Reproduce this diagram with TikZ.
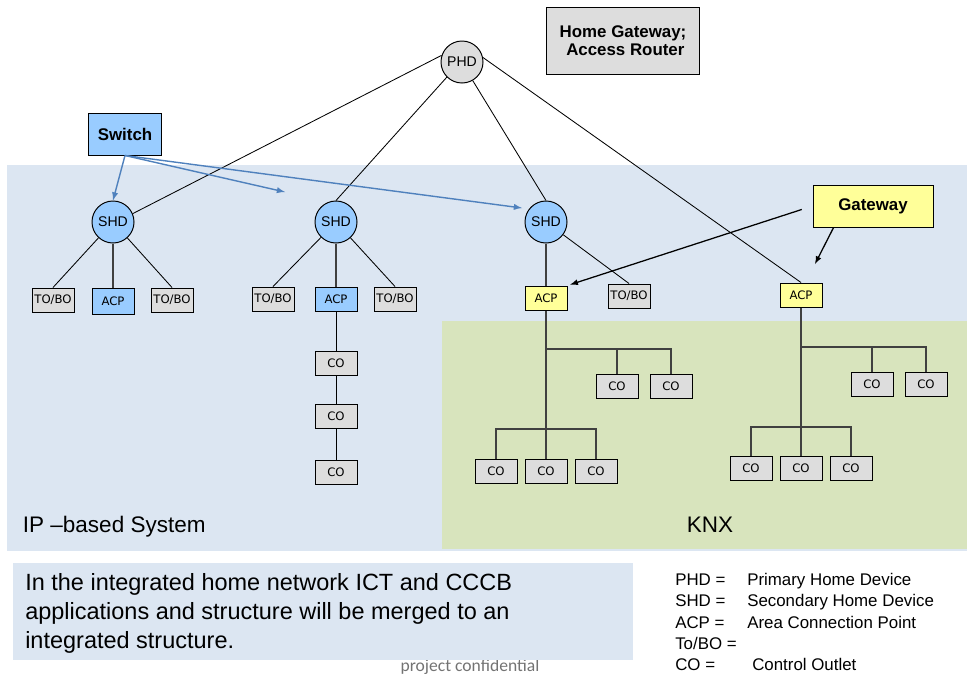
\documentclass[tikz,border=0pt]{standalone}
\usepackage{fontspec}
\setmainfont{Liberation Sans}
\newfontfamily\boxfont{DejaVu Sans}
\newfontfamily\notefont{Carlito}
\usetikzlibrary{positioning}
\definecolor{ipblue}{RGB}{220,230,242}
\definecolor{knxgreen}{RGB}{216,228,189}
\definecolor{shdblue}{RGB}{153,204,255}
\definecolor{acpyellow}{RGB}{255,255,153}
\definecolor{boxgray}{RGB}{221,221,221}
\definecolor{switchline}{RGB}{79,129,189}

\tikzset{
  dev/.style={circle, draw, line width=0.7pt, fill=shdblue, minimum size=1.05cm, inner sep=0pt, font=\fontsize{10}{12}\selectfont},
  outlet/.style={rectangle, draw, line width=0.7pt, fill=boxgray, minimum width=1.05cm, minimum height=0.6cm, inner sep=0pt, font=\boxfont\fontsize{8.3}{9}\selectfont},
  callout/.style={rectangle, draw, line width=0.7pt, inner sep=0pt, minimum height=1.05cm, align=center, font=\bfseries\fontsize{12}{13}\selectfont},
  link/.style={line width=0.6pt},
  trunk/.style={line width=1pt, black!75},
  swarrow/.style={-latex, line width=1pt, switchline},
  legend/.style={anchor=base west, inner sep=0pt, font=\fontsize{12}{14}\selectfont},
}

\begin{document}
\begin{tikzpicture}[x=0.025cm, y=-0.025cm]
  \useasboundingbox (0,0) rectangle (967,678);

  % system areas
  \fill[ipblue] (7,165) rectangle (967,551);
  \fill[knxgreen] (442,321) rectangle (967,549);
  \node[anchor=west, font=\fontsize{16}{19}\selectfont] (ipsys) at (18,527) {IP --based System};
  \node[font=\fontsize{16}{19}\selectfont] (knx) at (710,525) {KNX};

  % devices
  \node[dev, fill=boxgray] (phd) at (462,62) {PHD};
  \node[callout, fill=boxgray, minimum width=3.8cm, minimum height=1.675cm] (hgw) at (623,41) {Home Gateway;\\ \ Access Router};
  \node[callout, fill=shdblue, minimum width=1.825cm] (sw) at (125,134) {Switch};
  \node[callout, fill=acpyellow, minimum width=3cm] (gw) at (873,206) {Gateway};

  \node[dev] (shd1) at (113,222) {SHD};
  \node[dev] (shd2) at (336,222) {SHD};
  \node[dev] (shd3) at (546,222) {SHD};

  \node[outlet] (tb1) at (53,300) {TO/BO};
  \node[outlet, fill=shdblue, minimum height=0.65cm] (acp1) at (113,301) {ACP};
  \node[outlet] (tb2) at (172,300) {TO/BO};
  \node[outlet] (tb3) at (273,299) {TO/BO};
  \node[outlet, fill=shdblue] (acp2) at (336,299) {ACP};
  \node[outlet] (tb4) at (395,299) {TO/BO};
  \node[outlet, fill=acpyellow] (acp3) at (546,298) {ACP};
  \node[outlet] (tb5) at (629,296) {TO/BO};
  \node[outlet, fill=acpyellow] (acp4) at (801,295) {ACP};

  % control outlets
  \node[outlet] (c1) at (336,363) {CO};
  \node[outlet] (c2) at (336,416) {CO};
  \node[outlet] (c3) at (336,472) {CO};
  \node[outlet] (u1) at (617,386) {CO};
  \node[outlet] (u2) at (671,386) {CO};
  \node[outlet] (l1) at (496,471) {CO};
  \node[outlet] (l2) at (546,471) {CO};
  \node[outlet] (l3) at (596,471) {CO};
  \node[outlet] (v1) at (872,384) {CO};
  \node[outlet] (v2) at (926,384) {CO};
  \node[outlet] (m1) at (751,468) {CO};
  \node[outlet] (m2) at (801,468) {CO};
  \node[outlet] (m3) at (851,468) {CO};

  % PHD links
  \draw[link] (phd.162) -- (shd1.23);
  \draw[link] (phd.225) -- (shd2.north);
  \draw[link] (phd.300) -- (shd3.north);
  \draw[link] (phd.12) -- (acp4.north);

  % SHD links
  \draw[link] (shd1) -- (tb1.north);
  \draw[trunk] (shd1) -- (acp1);
  \draw[link] (shd1) -- (tb2.north);
  \draw[link] (shd2) -- (tb3.north);
  \draw[trunk] (shd2) -- (acp2);
  \draw[link] (shd2) -- (tb4.north);
  \draw[trunk] (shd3) -- (acp3);
  \draw[link] (shd3) -- (tb5.north);
  \draw[link] (acp2) -- (c1) -- (c2) -- (c3);

  % switch
  \coordinate (sw2) at (285,192);
  \coordinate (sw3) at (522,208);
  \draw[swarrow] (sw.south) -- (shd1.north);
  \draw[swarrow] (sw.south) -- (sw2);
  \draw[swarrow] (sw.south) -- (sw3);

  % gateway
  \coordinate (gwtip) at (815,264);
  \draw[-latex, line width=0.9pt, shorten <=8pt, shorten >=2pt] (gw.west) -- (acp3.north east);
  \draw[-latex, line width=0.9pt] ([xshift=15pt]gw.south west) -- (gwtip);

  % KNX lines
  \draw[trunk] (acp3) -- (l2);
  \draw[trunk] (acp3.south |- 0,349) -| (u2.north);
  \draw[trunk] (u1.north) -- (u1.north |- 0,349);
  \draw[trunk] (l1.north) -- (l1.north |- 0,429) -| (l3.north);
  \draw[trunk] (acp4) -- (m2);
  \draw[trunk] (acp4.south |- 0,347) -| (v2.north);
  \draw[trunk] (v1.north) -- (v1.north |- 0,347);
  \draw[trunk] (m1.north) -- (m1.north |- 0,427) -| (m3.north);

  % note and legend
  \node[text=black!55, font=\notefont\fontsize{12.5}{14}\selectfont] (conf) at (470,667) {project confidential};
  \fill[ipblue] (13,563) rectangle (633,660);
  \node[anchor=north west, align=left, inner sep=0pt, font=\fontsize{16.7}{20.6}\selectfont] (note) at (25,573)
    {In the integrated home network ICT and CCCB\\applications and structure will be merged to an\\integrated structure.};

  \node[legend] (k1) at (675,585) {PHD =};
  \node[legend] (d1) at (747,585) {Primary Home Device};
  \node[legend] (k2) at (675,606) {SHD =};
  \node[legend] (d2) at (747,606) {Secondary Home Device};
  \node[legend] (k3) at (675,628) {ACP =};
  \node[legend] (d3) at (747,628) {Area Connection Point};
  \node[legend] (k4) at (675,649) {To/BO =};
  \node[legend] (k5) at (675,670) {CO =};
  \node[legend] (d5) at (752,670) {Control Outlet};
\end{tikzpicture}
\end{document}
